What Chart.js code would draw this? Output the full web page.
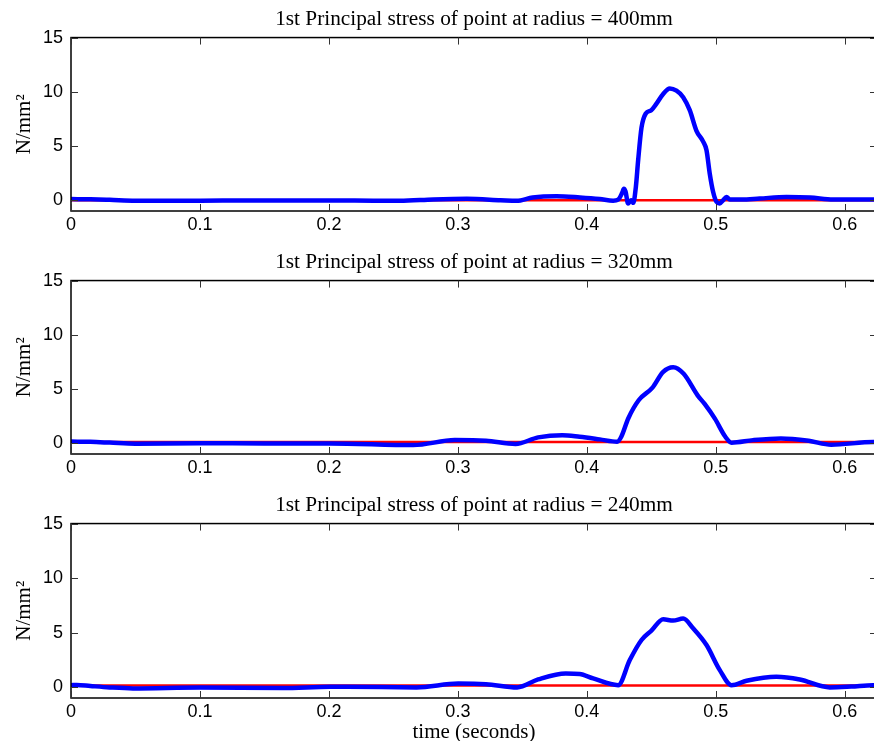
<!DOCTYPE html>
<html>
<head>
<meta charset="utf-8">
<script src="https://cdn.jsdelivr.net/npm/chart.js@4.4.0/dist/chart.umd.min.js"></script>
<style>
  html, body { margin: 0; padding: 0; background: #fff; overflow: hidden; width: 874px; height: 741px; }
  .panel { position: absolute; left: 0; }
</style>
</head>
<body>
<div class="panel" style="top:0px"><canvas id="chart1" width="877" height="243"></canvas></div>
<div class="panel" style="top:243px"><canvas id="chart2" width="877" height="243"></canvas></div>
<div class="panel" style="top:486px"><canvas id="chart3" width="877" height="259"></canvas></div>
<script>
// tick labels
var xTicks = [0, 0.1, 0.2, 0.3, 0.4, 0.5, 0.6]
var yTicks = [0, 5, 10, 15]

// radius = 400mm
var time400 = [0, 0.015, 0.03, 0.05, 0.075, 0.1, 0.13, 0.16, 0.19, 0.22, 0.255, 0.281, 0.307, 0.333, 0.3455, 0.358, 0.3765, 0.3946, 0.41, 0.4204,
  0.4243, 0.4275, 0.4287, 0.43, 0.432, 0.4335, 0.4346, 0.436, 0.438, 0.4398, 0.4424, 0.4457, 0.45, 0.454, 0.4592, 0.4643, 0.4695, 0.4747, 0.4798, 0.485,
  0.4902, 0.4928, 0.4953, 0.4979, 0.5005, 0.5031, 0.5057, 0.5083, 0.5109, 0.52, 0.534, 0.5548, 0.573, 0.591, 0.605, 0.625]
var stress400 = [0.1, 0.08, 0.03, -0.05, -0.05, -0.05, -0.03, -0.02, -0.02, -0.03, -0.06, 0.06, 0.12, 0.0, -0.06, 0.25, 0.37, 0.25, 0.1, -0.05,
  0.05, 0.7, 1.05, 0.8, -0.3, -0.1, 0.0, -0.25, 1.2, 3.7, 6.7, 8.0, 8.3, 8.9, 9.8, 10.3, 10.1, 9.5, 8.3, 6.4,
  5.4, 4.6, 2.45, 0.77, -0.15, -0.3, 0.0, 0.3, 0.06, 0.05, 0.15, 0.3, 0.25, 0.05, 0.05, 0.06]

// radius = 320mm
var time320 = [0, 0.015, 0.03, 0.05, 0.1, 0.15, 0.2008, 0.2654, 0.2976, 0.3218, 0.3447, 0.3622, 0.381, 0.3944, 0.41, 0.4235, 0.4267, 0.4321, 0.4402, 0.4509,
  0.459, 0.467, 0.4751, 0.4859, 0.4912, 0.4993, 0.5074, 0.5122, 0.5289, 0.5505, 0.572, 0.5895, 0.6222, 0.625]
var stress320 = [0.15, 0.12, 0.05, -0.05, 0, -0.02, -0.02, -0.18, 0.28, 0.22, -0.08, 0.53, 0.74, 0.59, 0.35, 0.13, 0.59, 2.28, 3.96, 5.12,
  6.56, 7.01, 6.4, 4.41, 3.64, 2.26, 0.59, 0.04, 0.28, 0.44, 0.22, -0.14, 0.1, 0.1]

// radius = 240mm
var time240 = [0, 0.0044, 0.015, 0.03, 0.048, 0.1, 0.164, 0.2008, 0.214, 0.268, 0.3003, 0.3218, 0.346, 0.3622, 0.3837, 0.3944, 0.4049, 0.4243, 0.4333, 0.4424,
  0.4501, 0.4592, 0.4669, 0.4747, 0.4824, 0.4928, 0.5031, 0.5122, 0.5238, 0.547, 0.5651, 0.5884, 0.605, 0.622, 0.625]
var stress240 = [0.18, 0.2, 0.1, -0.03, -0.12, -0.03, -0.09, 0.03, 0.03, -0.03, 0.33, 0.27, -0.03, 0.7, 1.25, 1.2, 0.8, 0.18, 2.48, 4.32,
  5.18, 6.22, 6.1, 6.29, 5.4, 3.86, 1.56, 0.18, 0.58, 0.95, 0.7, -0.03, 0.05, 0.18, 0.18]

// red reference levels
var refLevels = [0, 0.1, 0.15]

var serif = "'Liberation Serif', 'Times New Roman', serif"
var sans = "'Liberation Sans', Arial, sans-serif"

// matlab style box with inward ticks
var matlabBox = {
  id: 'matlabBox',
  afterDatasetsDraw(chart){
    const ctx = chart.ctx
    const a = chart.chartArea
    const x = chart.scales.x, y = chart.scales.y
    ctx.save()
    ctx.strokeStyle = '#000'
    ctx.lineWidth = 1.5
    ctx.strokeRect(a.left, a.top, a.right - a.left, a.bottom - a.top)
    ctx.strokeStyle = '#333'
    ctx.lineWidth = 1
    ctx.beginPath()
    xTicks.forEach(v => {
      const px = Math.round(x.getPixelForValue(v)) + 0.5
      ctx.moveTo(px, a.bottom); ctx.lineTo(px, a.bottom - 7)
      ctx.moveTo(px, a.top); ctx.lineTo(px, a.top + 7)
    })
    yTicks.forEach(v => {
      const py = Math.round(y.getPixelForValue(v)) + 0.5
      ctx.moveTo(a.left, py); ctx.lineTo(a.left + 7, py)
      ctx.moveTo(a.right, py); ctx.lineTo(a.right - 7, py)
    })
    ctx.stroke()
    ctx.restore()
  }
}

function buildPanel(id, title, times, values, ref, xTitle){
  const pts = times.map((t, i) => ({x: t, y: values[i]}))
  const refPts = [{x: times[0], y: ref}, {x: times[times.length-1], y: ref}]
  const ctx = document.getElementById(id).getContext('2d')
  return new Chart(ctx, {
    type: 'line',
    data: {
      datasets: [{
        data: pts,
        borderColor: '#0000ff',
        borderWidth: 4.5,
        cubicInterpolationMode: 'monotone',
        pointRadius: 0
      }, {
        data: refPts,
        borderColor: '#ff0000',
        borderWidth: 2.5,
        pointRadius: 0
      }]
    },
    options: {
      responsive: false,
      animation: false,
      layout: { padding: 0 },
      plugins: {
        legend: { display: false },
        tooltip: { enabled: false },
        title: {
          display: true,
          text: title,
          fullSize: false,
          color: '#000',
          font: { family: serif, size: 21.3, weight: 'normal' },
          padding: { top: 7, bottom: 5 }
        }
      },
      scales: {
        x: {
          type: 'linear',
          min: 0,
          max: 0.625,
          afterBuildTicks: s => { s.ticks = xTicks.map(v => ({value: v})) },
          afterFit: s => { s.height = xTitle ? 47 : 32 },
          grid: { display: false, drawTicks: false, tickLength: 0 },
          border: { display: false },
          ticks: {
            color: '#000',
            font: { family: sans, size: 18 },
            padding: 3,
            maxRotation: 0,
            callback: v => v === 0 ? '0' : v.toFixed(1)
          },
          title: {
            display: !!xTitle,
            text: xTitle || '',
            color: '#000',
            font: { family: serif, size: 21 },
            padding: { top: 0, bottom: 0 }
          }
        },
        y: {
          min: -1,
          max: 15,
          afterBuildTicks: s => { s.ticks = yTicks.map(v => ({value: v})) },
          afterFit: s => { s.width = 71 },
          grid: { display: false, drawTicks: false, tickLength: 0 },
          border: { display: false },
          ticks: {
            color: '#000',
            font: { family: sans, size: 18 },
            padding: 8
          },
          title: {
            display: true,
            text: 'N/mm²',
            color: '#000',
            font: { family: serif, size: 21 },
            padding: { top: 12, bottom: 0 }
          }
        }
      }
    },
    plugins: [matlabBox]
  })
}

buildPanel('chart1', '1st Principal stress of point at radius = 400mm', time400, stress400, refLevels[0])
buildPanel('chart2', '1st Principal stress of point at radius = 320mm', time320, stress320, refLevels[1])
buildPanel('chart3', '1st Principal stress of point at radius = 240mm', time240, stress240, refLevels[2], 'time (seconds)')
</script>
</body>
</html>
